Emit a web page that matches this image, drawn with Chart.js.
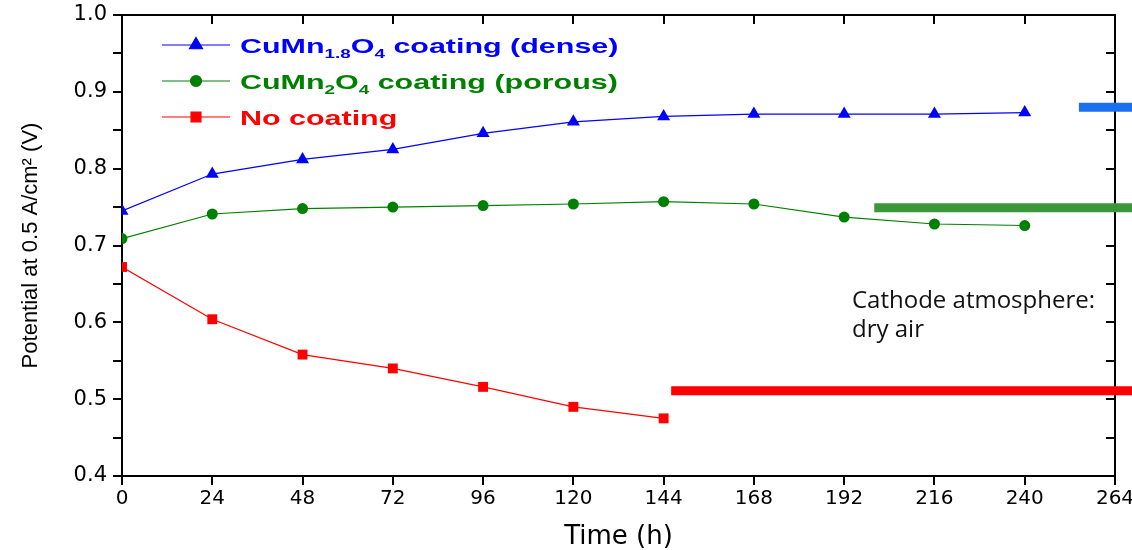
<!DOCTYPE html>
<html>
<head>
<meta charset="utf-8">
<script src="https://cdn.jsdelivr.net/npm/chart.js@4"></script>
<style>
  body { margin: 0; background: #fff; }
</style>
</head>
<body>
<canvas id="myChart" width="1132" height="550"></canvas>
<script>
// time axis (h) and potential at 0.5 A/cm2 (V)
const hours = [0, 24, 48, 72, 96, 120, 144, 168, 192, 216, 240];
const dense = [0.745, 0.793, 0.812, 0.825, 0.846, 0.861, 0.868, 0.871, 0.871, 0.871, 0.873];
const porous = [0.709, 0.741, 0.748, 0.750, 0.752, 0.754, 0.757, 0.754, 0.737, 0.728, 0.726];
const noCoating = [0.672, 0.604, 0.558, 0.540, 0.516, 0.490, 0.475];

const seriesLabels = ['CuMn_{1.8}O_{4} coating (dense)', 'CuMn_{2}O_{4} coating (porous)', 'No coating'];

const xTicks = [0, 24, 48, 72, 96, 120, 144, 168, 192, 216, 240, 264];
const yLabels = ['0.4', '0.5', '0.6', '0.7', '0.8', '0.9', '1.0'];

// thick level bars running off the right edge (cut from the next panel)
const blueBarX = [254.4, 270];
const blueBarY = 0.880;
const greenBarX = [200, 270];
const greenBarY = 0.749;
const redBarX = [146, 270];
const redBarY = 0.511;

const note = ['Cathode atmosphere:', 'dry air'];

function pts(xs, ys) {
    return ys.map((v, i) => ({x: xs[i], y: v}));
}
function flat(xs, y) {
    return xs.map(x => ({x: x, y: y}));
}

// legend drawn inside the plot, with subscripts
const innerLegend = {
    id: 'innerLegend',
    afterDatasetsDraw(chart) {
        const ctx = chart.ctx;
        seriesLabels.forEach((label, i) => {
            const ds = chart.data.datasets[i];
            const y = 45 + i * 36;
            ctx.save();
            ctx.strokeStyle = ds.borderColor;
            ctx.lineWidth = 1.2;
            ctx.beginPath();
            ctx.moveTo(162, y);
            ctx.lineTo(230, y);
            ctx.stroke();
            ctx.fillStyle = ds.backgroundColor;
            Chart.helpers.drawPoint(ctx, {pointStyle: ds.pointStyle, radius: ds.pointRadius, borderWidth: 1, rotation: 0}, 196, y);

            // text, stretched a bit wide like the original
            ctx.translate(240, y + 7.5);
            ctx.scale(1.45, 1);
            ctx.fillStyle = ds.borderColor;
            ctx.textBaseline = 'alphabetic';
            let x = 0;
            label.split(/(_\{[^}]*\})/).forEach(part => {
                if (!part) return;
                if (part.startsWith('_{')) {
                    const t = part.slice(2, -1);
                    ctx.font = 'bold 13px "Liberation Sans", Arial, sans-serif';
                    ctx.fillText(t, x, 5);
                    x += ctx.measureText(t).width;
                } else {
                    ctx.font = 'bold 21px "Liberation Sans", Arial, sans-serif';
                    ctx.fillText(part, x, 0);
                    x += ctx.measureText(part).width;
                }
            });
            ctx.restore();
        });

        ctx.save();
        ctx.fillStyle = '#111';
        ctx.font = '24px "Open Sans", sans-serif';
        ctx.textBaseline = 'alphabetic';
        ctx.fillText(note[0], 852, 308);
        ctx.fillText(note[1], 852, 337);
        ctx.restore();
    }
};

const axisLine = {color: '#000', width: 2};

const ctx = document.getElementById('myChart').getContext('2d');
const myChart = new Chart(ctx, {
    type: 'line',
    data: {
        datasets: [{
            label: seriesLabels[0],
            data: pts(hours, dense),
            borderColor: '#0000ff',
            backgroundColor: '#0000ff',
            borderWidth: 1.2,
            pointStyle: 'triangle',
            pointRadius: 7.5,
            pointBorderWidth: 0
        }, {
            label: seriesLabels[1],
            data: pts(hours, porous),
            borderColor: '#008000',
            backgroundColor: '#008000',
            borderWidth: 1.2,
            pointStyle: 'circle',
            pointRadius: 5.5,
            pointBorderWidth: 0
        }, {
            label: seriesLabels[2],
            data: pts(hours, noCoating),
            borderColor: '#ff0000',
            backgroundColor: '#ff0000',
            borderWidth: 1.2,
            pointStyle: 'rect',
            pointRadius: 7,
            pointBorderWidth: 0
        }, {
            label: 'blue bar',
            data: flat(blueBarX, blueBarY),
            borderColor: '#1a6ff0',
            borderWidth: 9,
            borderCapStyle: 'butt',
            pointRadius: 0,
            clip: false
        }, {
            label: 'green bar',
            data: flat(greenBarX, greenBarY),
            borderColor: '#3a973a',
            borderWidth: 9,
            borderCapStyle: 'butt',
            pointRadius: 0,
            clip: false
        }, {
            label: 'red bar',
            data: flat(redBarX, redBarY),
            borderColor: '#ff0000',
            borderWidth: 9,
            borderCapStyle: 'butt',
            pointRadius: 0,
            clip: false
        }]
    },
    options: {
        responsive: false,
        animation: false,
        layout: {padding: 0},
        elements: {line: {tension: 0}},
        plugins: {
            legend: {display: false},
            tooltip: {enabled: false}
        },
        scales: {
            x: {
                type: 'linear',
                min: 0,
                max: 264,
                afterBuildTicks: s => { s.ticks = xTicks.map(v => ({value: v})); },
                afterFit: s => { s.height = 74; s.paddingLeft = 0; s.paddingRight = 0; },
                border: axisLine,
                grid: {drawOnChartArea: false, color: '#000', lineWidth: 2, tickLength: 9},
                ticks: {color: '#000', font: {family: 'DejaVu Sans', size: 20}, padding: 2, maxRotation: 0, autoSkip: false},
                title: {display: true, text: 'Time (h)', color: '#000', font: {family: 'DejaVu Sans', size: 26, lineHeight: 1}, padding: 0}
            },
            xTop: {
                type: 'linear',
                position: 'top',
                min: 0,
                max: 264,
                afterBuildTicks: s => { s.ticks = xTicks.map(v => ({value: v})); },
                afterFit: s => { s.height = 15; s.paddingLeft = 0; s.paddingRight = 0; },
                border: axisLine,
                grid: {drawOnChartArea: false, color: '#000', lineWidth: 2, tickLength: -9},
                ticks: {display: false}
            },
            y: {
                min: 0.4,
                max: 1.0,
                afterFit: s => { s.width = 122; s.paddingTop = 0; s.paddingBottom = 0; },
                border: axisLine,
                grid: {drawOnChartArea: false, color: '#000', lineWidth: 2, tickLength: 9},
                ticks: {
                    stepSize: 0.05,
                    color: '#000',
                    font: {family: 'DejaVu Sans', size: 21},
                    padding: 6,
                    callback: v => yLabels.find(l => Math.abs(+l - v) < 1e-6) || ''
                },
                title: {display: true, text: 'Potential at 0.5 A/cm² (V)', color: '#000', font: {family: 'Liberation Sans', size: 22}, padding: {top: 18, bottom: 0}}
            },
            yRight: {
                position: 'right',
                min: 0.4,
                max: 1.0,
                afterFit: s => { s.width = 17; s.paddingTop = 0; s.paddingBottom = 0; },
                border: axisLine,
                grid: {drawOnChartArea: false, color: '#000', lineWidth: 2, tickLength: -9},
                ticks: {display: false, stepSize: 0.05}
            }
        }
    },
    plugins: [innerLegend]
});
</script>
</body>
</html>
